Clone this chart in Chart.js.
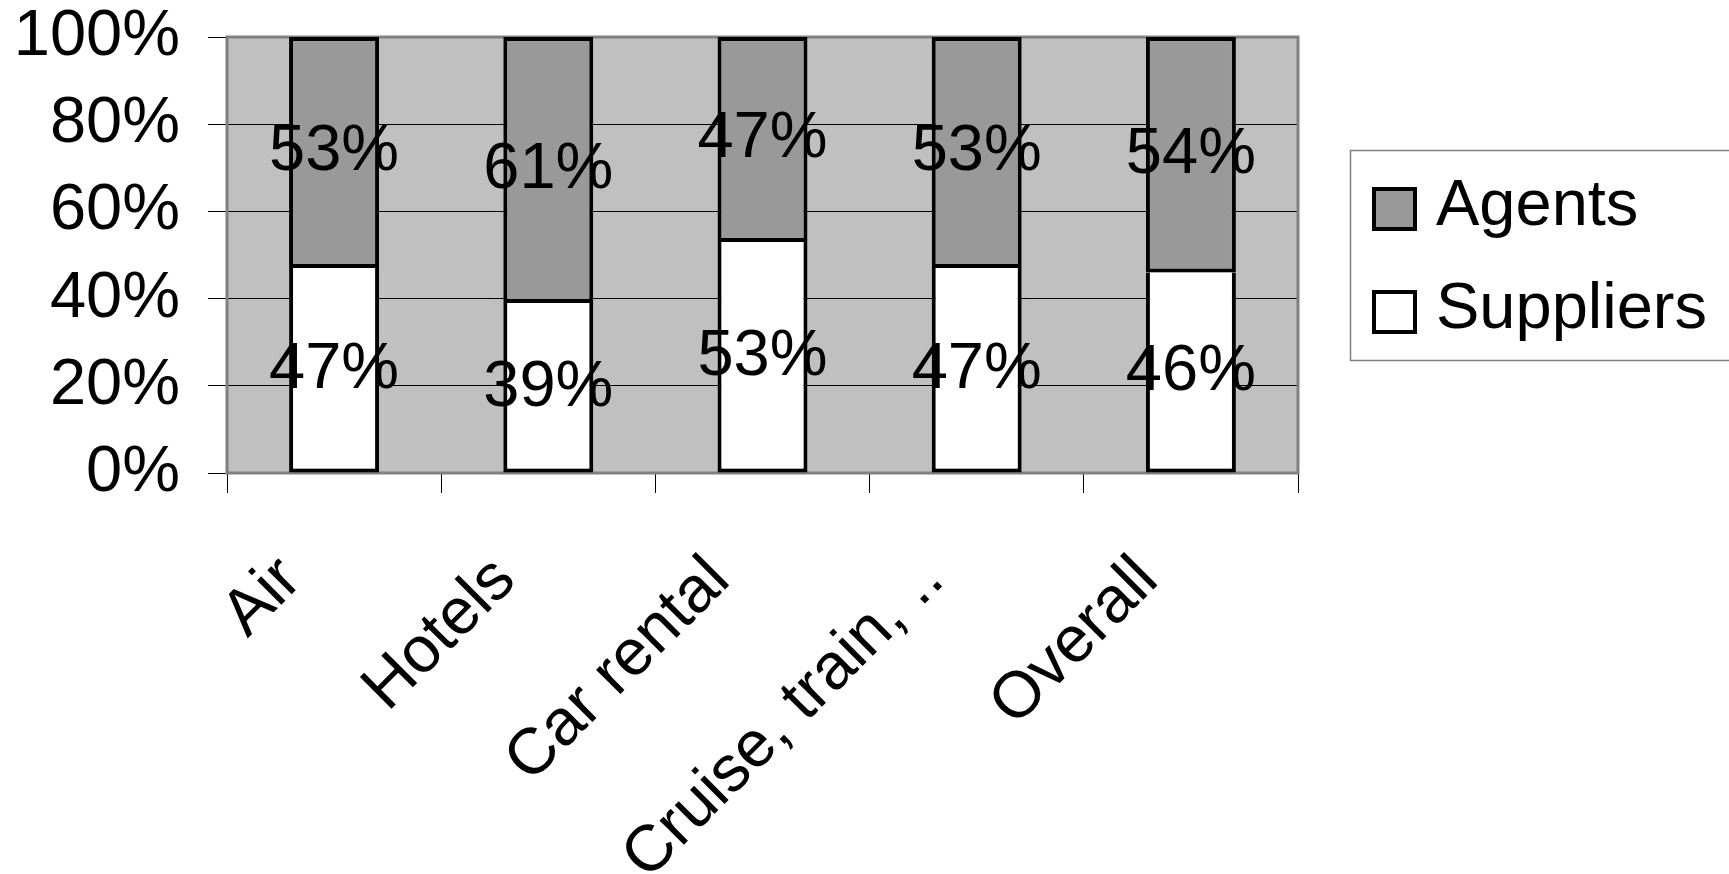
<!DOCTYPE html>
<html>
<head>
<meta charset="utf-8">
<script src="https://cdn.jsdelivr.net/npm/chart.js@4/dist/chart.umd.min.js"></script>
<style>
  html, body { margin: 0; padding: 0; background: #ffffff; overflow: hidden; }
  #wrap { width: 1729px; height: 874px; position: relative; }
</style>
</head>
<body>
<div id="wrap"><canvas id="c"></canvas></div>
<script>
// Share of bookings by channel, per travel product
const categories = ['Air', 'Hotels', 'Car rental', 'Cruise, train, ..', 'Overall'];
const suppliers  = [47, 39, 53, 47, 46];
const agents     = [53, 61, 47, 53, 54];
const yTicks     = [0, 20, 40, 60, 80, 100];

const FONT = '"Liberation Sans", Arial, Helvetica, sans-serif';
const FONT_SIZE = 65;

// Grey plot background
const plotBackground = {
  id: 'plotBackground',
  beforeDraw(chart) {
    const { ctx, chartArea: a } = chart;
    ctx.save();
    ctx.fillStyle = '#c0c0c0';
    ctx.fillRect(a.left, a.top, a.right - a.left, a.bottom - a.top);
    ctx.restore();
  }
};

// Frame around the plot, drawn over the gridlines but under the bars
const plotFrame = {
  id: 'plotFrame',
  beforeDatasetsDraw(chart) {
    const { ctx, chartArea: a } = chart;
    ctx.save();
    ctx.strokeStyle = '#808080';
    ctx.lineWidth = 3;
    ctx.strokeRect(a.left, a.top, a.right - a.left, a.bottom - a.top);
    ctx.restore();
  }
};

// Percentage written in the middle of each bar segment
const segmentValues = {
  id: 'segmentValues',
  afterDatasetsDraw(chart) {
    const { ctx } = chart;
    ctx.save();
    ctx.font = FONT_SIZE + 'px ' + FONT;
    ctx.fillStyle = '#000000';
    ctx.textAlign = 'center';
    ctx.textBaseline = 'middle';
    chart.data.datasets.forEach((ds, di) => {
      const meta = chart.getDatasetMeta(di);
      meta.data.forEach((bar, i) => {
        const p = bar.getProps(['x', 'y', 'base'], true);
        ctx.fillText(ds.data[i] + '%', p.x, (p.y + p.base) / 2);
      });
    });
    ctx.restore();
  }
};

// Boxed legend on the right, top series listed first
const boxedLegend = {
  id: 'boxedLegend',
  afterDraw(chart) {
    const { ctx } = chart;
    const items = chart.data.datasets.slice().reverse();
    ctx.save();
    ctx.strokeStyle = '#808080';
    ctx.lineWidth = 1.5;
    ctx.strokeRect(1350.5, 150.5, 420, 210);
    ctx.font = FONT_SIZE + 'px ' + FONT;
    ctx.textAlign = 'left';
    ctx.textBaseline = 'alphabetic';
    const baselines = [225, 328];
    items.forEach((ds, k) => {
      const base = baselines[k];
      const top = base - 38;
      ctx.fillStyle = ds.backgroundColor;
      ctx.fillRect(1374, top + 2, 41, 40);
      ctx.strokeStyle = '#000000';
      ctx.lineWidth = 4;
      ctx.strokeRect(1374, top + 2, 41, 40);
      ctx.fillStyle = '#000000';
      ctx.fillText(ds.label, 1436, base);
    });
    ctx.restore();
  }
};

new Chart(document.getElementById('c'), {
  type: 'bar',
  data: {
    labels: categories,
    datasets: [
      {
        label: 'Suppliers',
        data: suppliers,
        backgroundColor: '#ffffff',
        borderColor: '#000000',
        borderWidth: 4,
        borderSkipped: 'top',
        barPercentage: 0.42,
        categoryPercentage: 1
      },
      {
        label: 'Agents',
        data: agents,
        backgroundColor: '#999999',
        borderColor: '#000000',
        borderWidth: 4,
        borderSkipped: false,
        barPercentage: 0.42,
        categoryPercentage: 1
      }
    ]
  },
  options: {
    responsive: true,
    maintainAspectRatio: false,
    animation: false,
    layout: { padding: { left: 0, top: 37, right: 431, bottom: 0 } },
    plugins: {
      legend: { display: false },
      tooltip: { enabled: false }
    },
    scales: {
      x: {
        stacked: true,
        border: { display: false },
        grid: {
          display: true,
          offset: true,
          drawOnChartArea: false,
          drawTicks: true,
          tickLength: 20,
          color: '#000000',
          lineWidth: 1
        },
        ticks: {
          color: '#000000',
          font: { family: FONT, size: FONT_SIZE, lineHeight: 1.2 },
          minRotation: 45,
          maxRotation: 45,
          autoSkip: false,
          padding: 49,
          labelOffset: -43
        },
        afterFit(scale) { scale.height = 401; }
      },
      y: {
        stacked: true,
        min: 0,
        max: 100,
        border: { display: false },
        grid: {
          color: '#000000',
          lineWidth: 1,
          drawTicks: true,
          tickLength: 19,
          tickColor: '#000000'
        },
        ticks: {
          color: '#000000',
          // single-line labels: line height only feeds the axis padding, not the drawing
          font: { family: FONT, size: FONT_SIZE, lineHeight: 0.2 },
          padding: 28,
          callback: (v) => v + '%'
        },
        afterBuildTicks(scale) { scale.ticks = yTicks.map(v => ({ value: v })); },
        afterFit(scale) { scale.width = 227; }
      }
    }
  },
  plugins: [plotBackground, plotFrame, segmentValues, boxedLegend]
});
</script>
</body>
</html>
